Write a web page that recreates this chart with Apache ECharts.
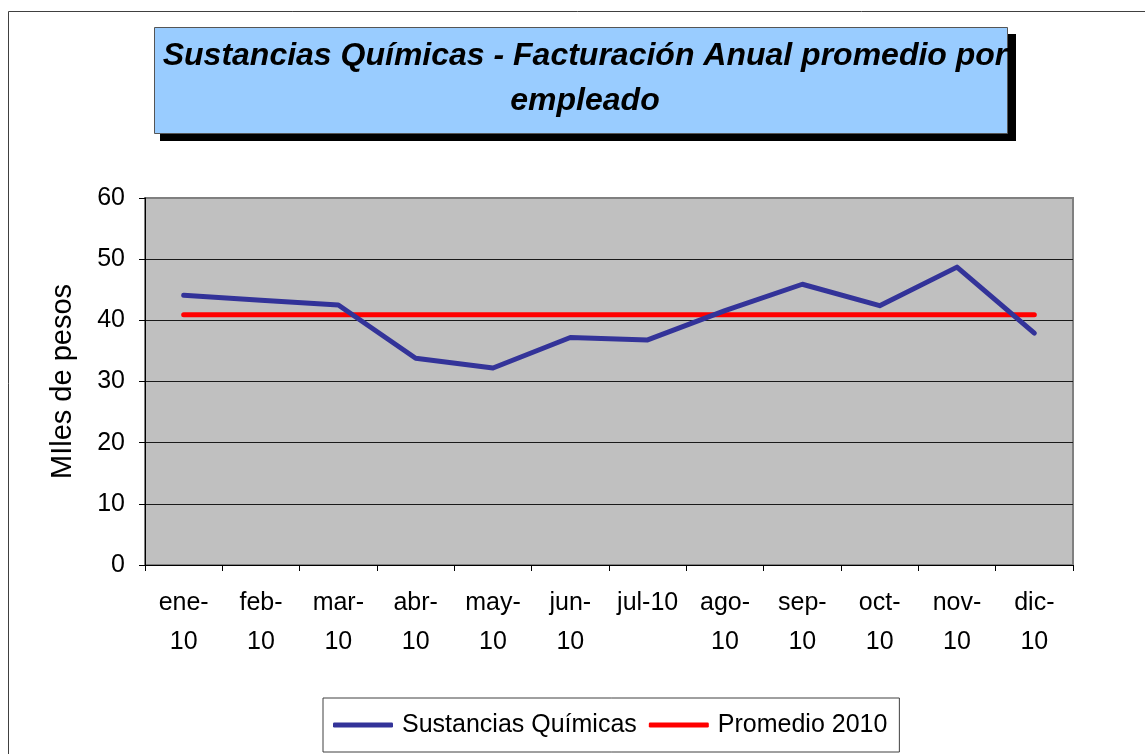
<!DOCTYPE html>
<html>
<head>
<meta charset="utf-8">
<script src="https://cdn.jsdelivr.net/npm/echarts@6/dist/echarts.min.js"></script>
<style>
  html, body { margin: 0; padding: 0; background: #ffffff; }
  #chart { width: 1145px; height: 754px; }
</style>
</head>
<body>
<div id="chart"></div>
<script>
// Monthly categories as printed on the axis (Excel-style wrapped labels)
const months = ['ene-\n10', 'feb-\n10', 'mar-\n10', 'abr-\n10', 'may-\n10', 'jun-\n10',
                'jul-10', 'ago-\n10', 'sep-\n10', 'oct-\n10', 'nov-\n10', 'dic-\n10'];

// Average annual billing per employee (thousands of pesos)
const sustanciasQuimicas = [44.1, 43.3, 42.5, 33.8, 32.2, 37.2, 36.8, 41.6, 45.9, 42.4, 48.7, 37.9];

// 2010 average reference line
const promedio2010 = [40.9, 40.9, 40.9, 40.9, 40.9, 40.9, 40.9, 40.9, 40.9, 40.9, 40.9, 40.9];

const yTicks = { min: 0, max: 60, interval: 10 };

const FONT = "'Liberation Sans', Arial, sans-serif";

const chart = echarts.init(document.getElementById('chart'), null, { renderer: 'canvas' });

chart.setOption({
  animation: false,
  backgroundColor: '#ffffff',
  textStyle: { fontFamily: FONT, color: '#000' },
  graphic: [
    // outer chart frame
    { type: 'rect', z: 0, silent: true,
      shape: { x: 8.5, y: 11.5, width: 1200, height: 800 },
      style: { fill: 'none', stroke: '#404040', lineWidth: 1 } },
    // title box shadow
    { type: 'rect', z: 1, silent: true,
      shape: { x: 160, y: 34, width: 856, height: 107 },
      style: { fill: '#000000' } },
    // title box
    { type: 'rect', z: 2, silent: true,
      shape: { x: 154.5, y: 27.5, width: 853, height: 106 },
      style: { fill: '#99CCFF', stroke: '#555555', lineWidth: 1 } }
  ],
  title: {
    text: 'Sustancias Químicas - Facturación Anual promedio por\nempleado',
    left: 585,
    top: 34,
    textAlign: 'center',
    z: 10,
    padding: 0,
    textStyle: {
      fontFamily: FONT,
      fontSize: 32,
      fontWeight: 'bold',
      fontStyle: 'italic',
      color: '#000',
      lineHeight: 45
    }
  },
  legend: {
    left: 323,
    top: 698,
    orient: 'horizontal',
    padding: [13, 12, 13, 10],
    itemGap: 12,
    itemWidth: 60,
    itemHeight: 5,
    borderColor: '#404040',
    borderWidth: 1,
    backgroundColor: '#ffffff',
    textStyle: { fontFamily: FONT, fontSize: 25, color: '#000', lineHeight: 28, padding: [0, 0, 0, 4] },
    data: [
      { name: 'Sustancias Químicas', icon: 'roundRect' },
      { name: 'Promedio 2010', icon: 'roundRect' }
    ]
  },
  grid: {
    left: 145,
    top: 198,
    right: 72,
    bottom: 189,
    show: true,
    backgroundColor: '#C0C0C0',
    borderColor: '#808080',
    borderWidth: 2
  },
  xAxis: {
    type: 'category',
    data: months,
    boundaryGap: true,
    axisLine: { show: true, lineStyle: { color: '#000', width: 1 } },
    axisTick: { show: true, inside: false, length: 6, lineStyle: { color: '#000' } },
    axisLabel: {
      interval: 0,
      margin: 19,
      fontFamily: FONT,
      fontSize: 25,
      lineHeight: 39,
      color: '#000',
      align: 'center'
    },
    splitLine: { show: false }
  },
  yAxis: {
    type: 'value',
    min: yTicks.min,
    max: yTicks.max,
    interval: yTicks.interval,
    name: 'MIles de pesos',
    nameLocation: 'middle',
    nameGap: 68,
    nameRotate: 90,
    nameTextStyle: { fontFamily: FONT, fontSize: 29, color: '#000' },
    axisLine: { show: true, lineStyle: { color: '#000', width: 1 } },
    axisTick: { show: true, inside: false, length: 6, lineStyle: { color: '#000' } },
    axisLabel: { margin: 20, fontFamily: FONT, fontSize: 25, color: '#000' },
    splitLine: { show: true, showMaxLine: false, lineStyle: { color: '#1a1a1a', width: 1 } }
  },
  series: [
    {
      name: 'Sustancias Químicas',
      type: 'line',
      data: sustanciasQuimicas,
      symbol: 'none',
      z: 3,
      lineStyle: { color: '#333399', width: 5, cap: 'round', join: 'round' },
      itemStyle: { color: '#333399' }
    },
    {
      name: 'Promedio 2010',
      type: 'line',
      data: promedio2010,
      symbol: 'none',
      z: 2,
      lineStyle: { color: '#FF0000', width: 5, cap: 'round' },
      itemStyle: { color: '#FF0000' }
    }
  ]
});
</script>
</body>
</html>
